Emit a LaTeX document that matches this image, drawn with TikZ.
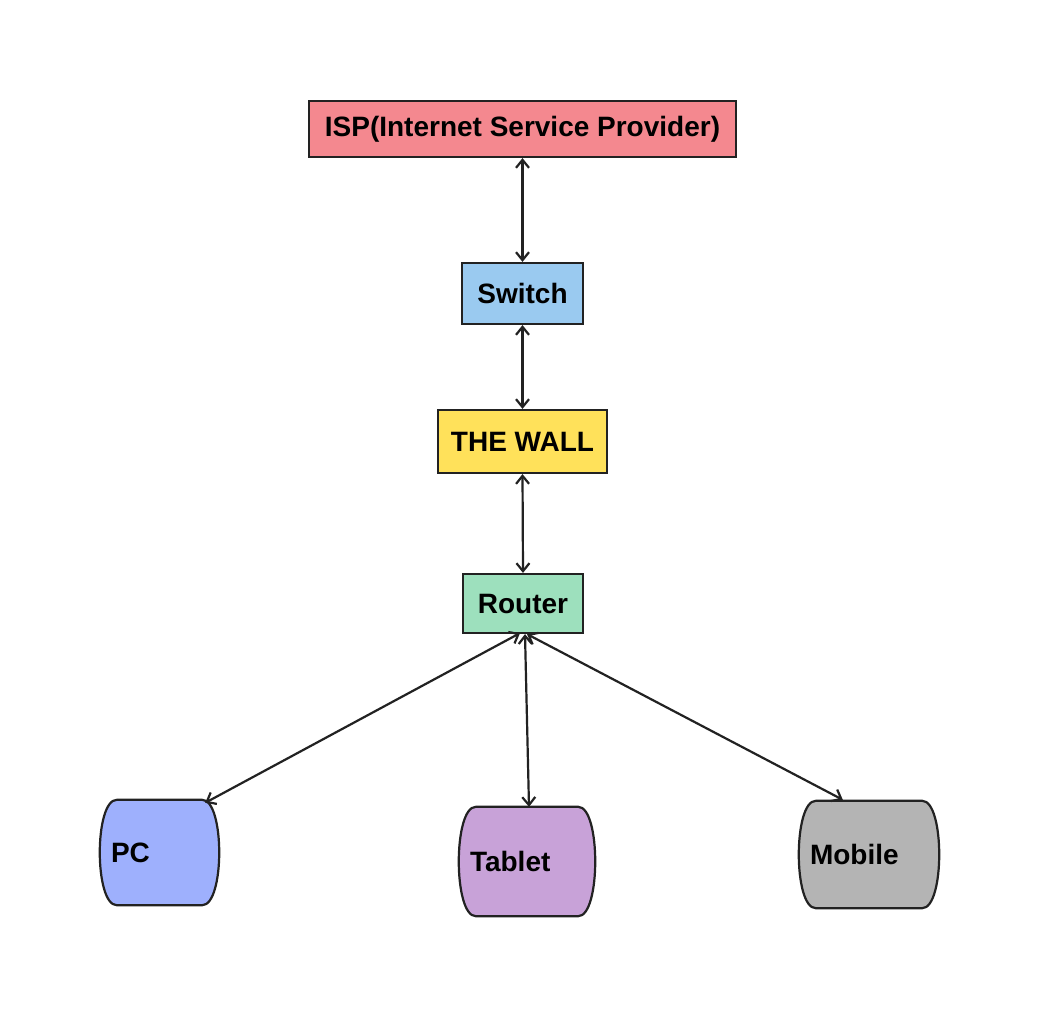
\documentclass[tikz,border=0pt]{standalone}
\usepackage{fontspec}
\setmainfont{Liberation Sans}
\usetikzlibrary{arrows.meta,calc,backgrounds}
\definecolor{ispc}{HTML}{F4888F}
\definecolor{swc}{HTML}{9ACAF0}
\definecolor{wallc}{HTML}{FFE15A}
\definecolor{routc}{HTML}{9DE0BD}
\definecolor{pcc}{HTML}{9EB0FD}
\definecolor{tabc}{HTML}{C8A2D8}
\definecolor{mobc}{HTML}{B4B4B4}
\definecolor{strokec}{HTML}{222222}
\tikzset{
  boxnode/.style={draw=strokec, line width=2.2pt, inner sep=0pt, font=\fontsize{28}{32}\selectfont\bfseries},
  devnode/.style={inner xsep=11pt, inner ysep=0pt, align=left, font=\fontsize{28}{32}\selectfont\bfseries},
  devshape/.style={draw=strokec, line width=2.2pt},
  link/.style={draw=strokec, line width=2.2pt, {Straight Barb[length=8pt,width=13pt]}-{Straight Barb[length=8pt,width=13pt]}}
}
\newcommand{\tapeshape}[2]{%
  \path[devshape, fill=#2] ($(#1.north west)+(17,0)$) -- ($(#1.north east)+(-17,0)$)
    .. controls ($(#1.north east)+(5.7,0)$) and ($(#1.south east)+(5.7,0)$) .. ($(#1.south east)+(-17,0)$)
    -- ($(#1.south west)+(17,0)$)
    .. controls ($(#1.south west)+(-5.7,0)$) and ($(#1.north west)+(-5.7,0)$) .. cycle;}
\begin{document}
\begin{tikzpicture}[x=1pt,y=-1pt]
\useasboundingbox (0,0) rectangle (1040,1016);
\node[boxnode, fill=ispc, minimum width=427pt, minimum height=56pt] (isp) at (522.5,129) {ISP(Internet Service Provider)};
\node[boxnode, fill=swc, minimum width=121pt, minimum height=61pt] (sw) at (522.5,293.5) {Switch};
\node[boxnode, fill=wallc, minimum width=169pt, minimum height=63pt] (wall) at (522.5,441.5) {THE WALL};
\node[boxnode, fill=routc, minimum width=120pt, minimum height=59pt] (router) at (523,603.5) {Router};
\node[devnode, text width=97pt, minimum height=105pt] (pc) at (159.5,852.5) {PC};
\node[devnode, text width=114pt, minimum height=109pt] (tab) at (527,861.5) {Tablet};
\node[devnode, text width=118pt, minimum height=107pt] (mob) at (869,854.5) {Mobile};
\begin{scope}[on background layer]
\fill[white] (0,0) rectangle (1040,1016);
\tapeshape{pc}{pcc}
\tapeshape{tab}{tabc}
\tapeshape{mob}{mobc}
\end{scope}
\draw[link] (isp.south) -- (sw.north);
\draw[link] (sw.south) -- (wall.north);
\draw[link] (wall.south) -- (router.north);
\draw[link] ($(router.south)+(-3,-1)$) -- ($(pc.north east)+(-14,3)$);
\draw[link] ($(router.south)+(2,0)$) -- ($(tab.north)+(2,0)$);
\draw[link] ($(router.south)+(4,0)$) -- ($(mob.north west)+(44,-1)$);
\end{tikzpicture}
\end{document}
